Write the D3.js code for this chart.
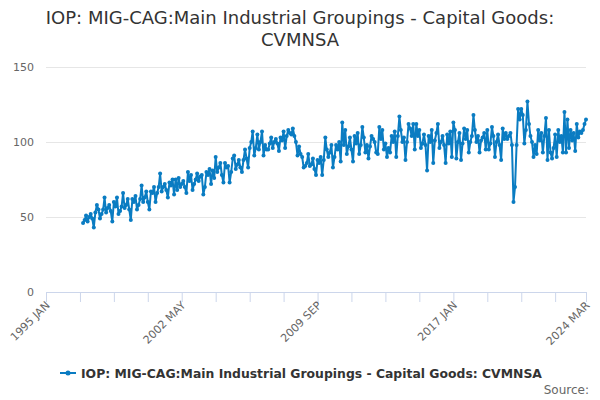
<!DOCTYPE html>
<html lang="en">
	<head>
		<meta charset="utf-8">
		<title>IOP: MIG-CAG Capital Goods</title>
		<script src="https://d3js.org/d3.v7.min.js"></script>
		<style type="text/css">
		  body { margin: 0; background: #fff; }
		</style>
	</head>
	<body>
		<script type="text/javascript">

		  // series: monthly values, first month below
		  var firstMonth = "1997-01";
		  var values = [
		  46, 48, 51, 47, 50, 52, 49, 43, 53, 58, 55, 49,
		  52, 55, 63, 53, 56, 58, 54, 47, 60, 57, 63, 52,
		  54, 57, 66, 56, 58, 62, 55, 48, 62, 60, 64, 55,
		  58, 62, 71, 60, 63, 67, 60, 55, 67, 66, 70, 60,
		  66, 70, 79, 67, 70, 72, 68, 63, 73, 71, 75, 65,
		  75, 68, 76, 70, 72, 74, 70, 66, 80, 74, 78, 68,
		  72, 75, 79, 74, 77, 78, 65, 70, 80, 78, 82, 72,
		  81, 76, 90, 80, 83, 86, 78, 73, 86, 83, 84, 73,
		  80, 89, 91, 82, 85, 88, 83, 80, 88, 95, 89, 83,
		  96, 100, 107, 91, 96, 105, 95, 100, 107, 91, 98, 95,
		  95, 99, 103, 96, 100, 102, 99, 94, 103, 101, 107, 96,
		  104, 108, 106, 105, 109, 104, 100, 91, 97, 92, 90, 83,
		  84, 86, 92, 84, 85, 89, 82, 78, 88, 86, 90, 78,
		  88, 103, 95, 90, 93, 98, 83, 90, 98, 95, 100, 87,
		  113, 98, 108, 92, 97, 103, 95, 87, 104, 99, 106, 92,
		  98, 110, 103, 93, 98, 89, 97, 104, 102, 100, 93, 92,
		  110, 102, 108, 95, 99, 90, 96, 93, 104, 100, 107, 90,
		  104, 117, 108, 100, 103, 88, 100, 112, 109, 104, 112, 95,
		  112, 104, 108, 96, 99, 105, 98, 81, 104, 100, 108, 86,
		  101, 106, 112, 96, 100, 104, 98, 86, 105, 99, 107, 90,
		  113, 108, 89, 100, 106, 88, 99, 109, 102, 108, 93, 100,
		  104, 118, 108, 100, 104, 93, 101, 103, 106, 95, 108, 95,
		  99, 110, 104, 90, 100, 105, 98, 88, 109, 102, 106, 102,
		  104, 106, 98, 60, 70, 98, 122, 115, 122, 118, 99, 108,
		  127, 112, 104, 100, 90, 98, 92, 108, 101, 106, 93, 104,
		  116, 88, 108, 93, 89, 96, 105, 90, 108, 100, 104, 93,
		  120, 93, 115, 96, 108, 101, 106, 94, 112, 103, 107, 106,
		  108, 112, 115
		  ];

		  // axis labels
		  var yTicks = [0, 50, 100, 150];
		  var axisStart = "1995-01";
		  var axisEnd = "2024-03";
		  var tickStepMonths = 22;
		  var labelEvery = 4;

		  var title = ["IOP: MIG-CAG:Main Industrial Groupings - Capital Goods:", "CVMNSA"];
		  var seriesName = "IOP: MIG-CAG:Main Industrial Groupings - Capital Goods: CVMNSA";

		  var parseMonth = d3.timeParse("%Y-%m");
		  var fmt = d3.timeFormat("%Y %b");
		  var start = parseMonth(firstMonth);
		  var data = values.map(function(v, i) {
		    return {date: d3.timeMonth.offset(start, i), value: v};
		  });

		  var width = 600, height = 400;
		  var color = "#0a7cc2";

		  var svg = d3.select("body")
		              .append("svg")
		              .attr("width", width)
		              .attr("height", height)
		              .style("font-family", "'DejaVu Sans', sans-serif");

		  // scales
		  var xScale = d3.scaleTime()
		                 .domain([parseMonth(axisStart), parseMonth(axisEnd)])
		                 .range([46, 586]);
		  var yScale = d3.scaleLinear()
		                 .domain([0, 150])
		                 .range([292, 67]);

		  // title
		  svg.selectAll("text.title")
		     .data(title)
		     .enter()
		     .append("text")
		     .attr("class", "title")
		     .attr("x", 300)
		     .attr("y", function(d, i) { return 24 + i * 22; })
		     .attr("text-anchor", "middle")
		     .attr("font-size", "18px")
		     .attr("fill", "#333")
		     .text(function(d) { return d; });

		  // grid + y labels
		  var yAxis = d3.axisLeft(yScale).tickValues(yTicks).tickSize(-540).tickPadding(12);
		  var yAxisGroup = svg.append("g").attr("transform", "translate(46,0)").call(yAxis);
		  yAxisGroup.select(".domain").remove();
		  yAxisGroup.selectAll("line").attr("stroke", "#e6e6e6");
		  yAxisGroup.selectAll("text").attr("fill", "#666").attr("font-size", "11px")
		            .attr("font-family", "'DejaVu Sans', sans-serif");
		  yAxisGroup.selectAll(".tick").filter(function(d) { return d === 0; }).select("line").remove();

		  // x axis: ticks every 22 months from start, plus end month
		  var x0 = parseMonth(axisStart), x1 = parseMonth(axisEnd);
		  var total = d3.timeMonth.count(x0, x1);
		  var tickDates = d3.range(0, total, tickStepMonths).map(function(k) { return d3.timeMonth.offset(x0, k); });
		  tickDates.push(x1);
		  var labelled = function(d, i) { return i % labelEvery === 0 || i === tickDates.length - 1; };

		  var xAxis = d3.axisBottom(xScale)
		                .tickValues(tickDates)
		                .tickSize(10)
		                .tickFormat(function(d, i) { return labelled(d, i) ? fmt(d).toUpperCase() : ""; });
		  var xAxisGroup = svg.append("g").attr("transform", "translate(0,292)").call(xAxis);
		  xAxisGroup.select(".domain").attr("stroke", "#ccd6eb");
		  xAxisGroup.selectAll("line").attr("stroke", "#ccd6eb");
		  xAxisGroup.selectAll("text")
		            .attr("fill", "#666")
		            .attr("font-size", "11px")
		            .attr("font-family", "'DejaVu Sans', sans-serif")
		            .attr("text-anchor", "end")
		            .attr("dy", null)
		            .attr("transform", "translate(4,14) rotate(-45)")
		            .attr("x", 0)
		            .attr("y", 0);

		  // line
		  var line = d3.line()
		               .x(function(d) { return xScale(d.date); })
		               .y(function(d) { return yScale(d.value); });
		  svg.append("path")
		     .datum(data)
		     .attr("fill", "none")
		     .attr("stroke", color)
		     .attr("stroke-width", 2)
		     .attr("stroke-linejoin", "round")
		     .attr("d", line);

		  // markers
		  svg.selectAll("circle.pt")
		     .data(data)
		     .enter()
		     .append("circle")
		     .attr("class", "pt")
		     .attr("cx", function(d) { return xScale(d.date); })
		     .attr("cy", function(d) { return yScale(d.value); })
		     .attr("r", 2)
		     .attr("fill", color);

		  // legend
		  var legend = svg.append("g").attr("transform", "translate(60,373)");
		  legend.append("line").attr("x1", 0).attr("x2", 16).attr("y1", 0).attr("y2", 0)
		        .attr("stroke", color).attr("stroke-width", 2);
		  legend.append("circle").attr("cx", 8).attr("cy", 0).attr("r", 2.5).attr("fill", color);
		  legend.append("text")
		        .attr("x", 21)
		        .attr("y", 4.5)
		        .attr("font-size", "12.4px")
		        .attr("font-weight", "bold")
		        .attr("fill", "#333")
		        .text(seriesName);

		  // source
		  svg.append("text")
		     .attr("x", 589)
		     .attr("y", 394)
		     .attr("text-anchor", "end")
		     .attr("font-size", "12px")
		     .attr("fill", "#666")
		     .text("Source:");

		</script>
	</body>
</html>
